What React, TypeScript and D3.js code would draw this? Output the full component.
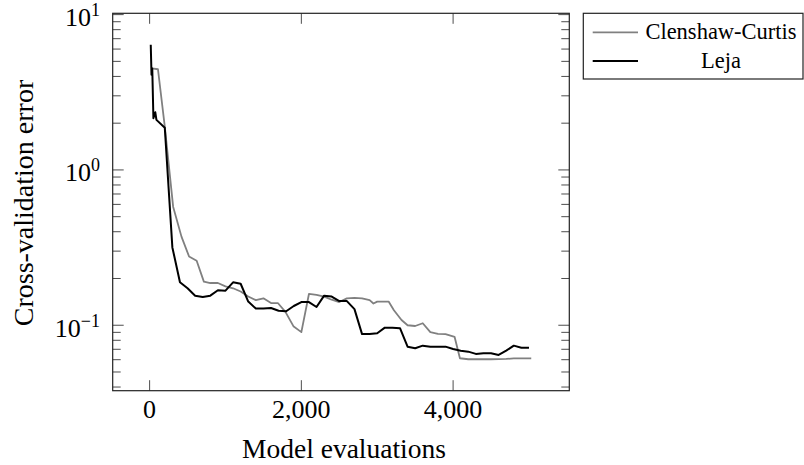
import React from "react";
import * as d3 from "d3";

const ccX = [30, 110, 200, 310, 420, 520, 620, 715, 800, 900, 1000, 1100, 1200, 1300, 1400, 1500, 1600, 1690, 1790, 1895, 2000, 2100, 2200, 2300, 2400, 2500, 2600, 2700, 2800, 2900, 2950, 3000, 3150, 3220, 3320, 3400, 3500, 3600, 3700, 3800, 3900, 4020, 4090, 4200, 4300, 4400, 4500, 4600, 4700, 4800, 4900, 5030];
const ccY = [4.5, 4.45, 1.9, 0.58, 0.372, 0.277, 0.26, 0.191, 0.187, 0.187, 0.178, 0.173, 0.165, 0.153, 0.145, 0.149, 0.139, 0.139, 0.122, 0.0986, 0.0903, 0.159, 0.157, 0.153, 0.146, 0.141, 0.149, 0.15, 0.149, 0.145, 0.138, 0.142, 0.142, 0.125, 0.108, 0.1, 0.0989, 0.103, 0.0902, 0.0879, 0.0877, 0.0841, 0.0613, 0.0604, 0.0604, 0.0604, 0.0604, 0.0605, 0.0607, 0.0611, 0.0612, 0.0611];

const lejaX = [15, 25, 35, 50, 75, 90, 200, 300, 400, 500, 600, 700, 800, 900, 1000, 1100, 1200, 1300, 1400, 1500, 1600, 1700, 1800, 1900, 2000, 2100, 2200, 2300, 2400, 2500, 2600, 2700, 2800, 2900, 3000, 3100, 3200, 3300, 3400, 3500, 3600, 3700, 3800, 3900, 4000, 4100, 4200, 4300, 4400, 4500, 4600, 4700, 4800, 4900, 5000];
const lejaY = [6.4, 4.1, 4.5, 2.15, 2.35, 2.1, 1.87, 0.317, 0.189, 0.173, 0.155, 0.152, 0.155, 0.168, 0.167, 0.189, 0.185, 0.142, 0.128, 0.128, 0.129, 0.124, 0.123, 0.133, 0.141, 0.141, 0.131, 0.155, 0.153, 0.143, 0.143, 0.127, 0.0877, 0.0877, 0.0888, 0.0965, 0.0965, 0.0957, 0.0728, 0.0711, 0.0739, 0.0728, 0.0728, 0.0728, 0.0703, 0.0686, 0.0676, 0.0654, 0.066, 0.066, 0.0644, 0.0686, 0.0739, 0.0717, 0.0717];

const xTicks = [0, 2000, 4000];
const xTickLabels = ["0", "2,000", "4,000"];
const yTicks = [10, 1, 0.1];
const yTickExp = ["1", "0", "\u22121"];
const seriesNames = ["Clenshaw-Curtis", "Leja"];
const seriesColors = ["#808080", "#000000"];

const W = 804;
const H = 465;
const L = 112.7, R = 569.3, T = 13.3, B = 390.7;
const FONT = "'Liberation Serif', 'Times New Roman', serif";

export default function App() {
  const x = d3.scaleLinear().domain([-486.5, 5531.5]).range([L, R]);
  const y = d3.scaleLog().domain([Math.pow(10, -1.4215), Math.pow(10, 1.0085)]).range([B, T]);

  const line = d3
    .line<[number, number]>()
    .x((d) => x(d[0]))
    .y((d) => y(d[1]));

  const ccData: [number, number][] = ccX.map((v, i) => [v, ccY[i]]);
  const lejaData: [number, number][] = lejaX.map((v, i) => [v, lejaY[i]]);

  const minorTicks: number[] = [];
  for (let e = -2; e <= 1; e++) {
    for (let m = 2; m <= 9; m++) {
      const v = m * Math.pow(10, e);
      const py = y(v);
      if (py >= T && py <= B) minorTicks.push(v);
    }
  }

  const tickColor = "#4d4d4d";

  return (
    <svg
      width={W}
      height={H}
      style={{ position: "absolute", left: 0, top: 0, background: "#fff" }}
      fontFamily={FONT}
    >
      <rect x={0} y={0} width={W} height={H} fill="#fff" />
      {/* minor y ticks */}
      {minorTicks.map((v, i) => (
        <g key={"mt" + i} stroke={tickColor} strokeWidth={1}>
          <line x1={L} x2={L + 8} y1={y(v)} y2={y(v)} />
          <line x1={R} x2={R - 8} y1={y(v)} y2={y(v)} />
        </g>
      ))}
      {/* major y ticks */}
      {yTicks.map((v, i) => (
        <g key={"yt" + i}>
          <line x1={L} x2={L + 11} y1={y(v)} y2={y(v)} stroke={tickColor} strokeWidth={1} />
          <line x1={R} x2={R - 11} y1={y(v)} y2={y(v)} stroke={tickColor} strokeWidth={1} />
          <text x={100} y={y(v) + 11.5} textAnchor="end" fontSize={26} fill="#000">
            <tspan>10</tspan>
            <tspan dy={-10} fontSize={18}>{yTickExp[i]}</tspan>
          </text>
        </g>
      ))}
      {/* x ticks */}
      {xTicks.map((v, i) => (
        <g key={"xt" + i}>
          <line x1={x(v)} x2={x(v)} y1={B} y2={B - 10.5} stroke={tickColor} strokeWidth={1} />
          <line x1={x(v)} x2={x(v)} y1={T} y2={T + 10.5} stroke={tickColor} strokeWidth={1} />
          <text x={x(v)} y={418} textAnchor="middle" fontSize={26} fill="#000">
            {xTickLabels[i]}
          </text>
        </g>
      ))}
      {/* lines */}
      <path d={line(ccData) || ""} fill="none" stroke={seriesColors[0]} strokeWidth={1.8} strokeLinejoin="round" />
      <path d={line(lejaData) || ""} fill="none" stroke={seriesColors[1]} strokeWidth={2} strokeLinejoin="round" />
      {/* frame */}
      <rect x={L} y={T} width={R - L} height={B - T} fill="none" stroke="#222" strokeWidth={1.2} />
      {/* axis labels */}
      <text x={(L + R) / 2 + 3} y={458} textAnchor="middle" fontSize={27.5} fill="#000">
        Model evaluations
      </text>
      <text
        transform={`translate(33, 203) rotate(-90)`}
        textAnchor="middle"
        fontSize={28}
        fill="#000"
      >
        Cross-validation error
      </text>
      {/* legend */}
      <rect x={583.3} y={13.3} width={219.7} height={65.7} fill="#fff" stroke="#222" strokeWidth={1.2} />
      {seriesNames.map((name, i) => {
        const cy = 32.3 + i * 28.7;
        return (
          <g key={"lg" + i}>
            <line x1={592.7} x2={638} y1={cy} y2={cy} stroke={seriesColors[i]} strokeWidth={i === 0 ? 1.8 : 2} />
            <text x={721} y={cy + 6.5} textAnchor="middle" fontSize={22.5} fill="#000">
              {name}
            </text>
          </g>
        );
      })}
    </svg>
  );
}
